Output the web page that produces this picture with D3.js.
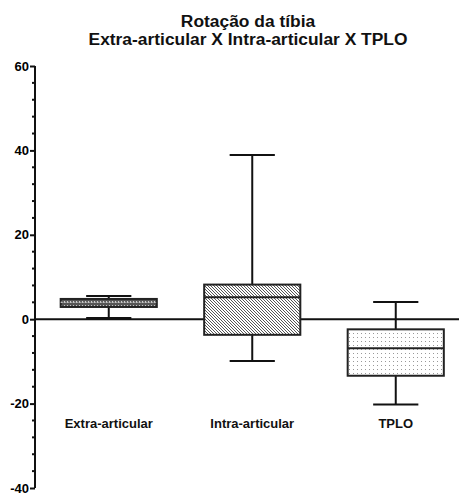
<!DOCTYPE html>
<html><head><meta charset="utf-8">
<script src="https://cdn.jsdelivr.net/npm/d3@7/dist/d3.min.js"></script>
<style>body{margin:0;background:#fff}svg{display:block}text{font-family:"Liberation Sans",Arial,sans-serif;font-weight:bold;fill:#111}</style>
</head><body>
<script>
const categories = ["Extra-articular", "Intra-articular", "TPLO"];
const whiskerLow = [0.3, -9.9, -20.2];
const q1 = [2.9, -3.7, -13.4];
const median = [4.0, 5.2, -6.9];
const q3 = [4.8, 8.2, -2.4];
const whiskerHigh = [5.5, 38.9, 4.1];
const majorTicks = [-40, -20, 0, 20, 40, 60];
const minorTicks = d3.range(-40, 61, 4);
const titleLines = ["Rotação da tíbia", "Extra-articular X Intra-articular X TPLO"];

const W = 459, H = 493;
const svg = d3.select("body").append("svg").attr("width", W).attr("height", H);
const defs = svg.append("defs");

// patterns
const p1 = defs.append("pattern").attr("id","pat0").attr("patternUnits","userSpaceOnUse").attr("width",3).attr("height",4);
p1.append("rect").attr("width",3).attr("height",4).attr("fill","#555");
p1.append("rect").attr("x",1).attr("y",1).attr("width",1).attr("height",1).attr("fill","#ccc");
const p2 = defs.append("pattern").attr("id","pat1").attr("patternUnits","userSpaceOnUse").attr("width",3).attr("height",3);
p2.append("rect").attr("width",3).attr("height",3).attr("fill","#fff");
p2.append("path").attr("d","M-1,-1L4,4M-1,2L1,4M2,-1L4,1").attr("stroke","#555").attr("stroke-width",1);
const p3 = defs.append("pattern").attr("id","pat2").attr("patternUnits","userSpaceOnUse").attr("width",4).attr("height",4);
p3.append("rect").attr("width",4).attr("height",4).attr("fill","#fff");
p3.append("rect").attr("x",1).attr("y",1).attr("width",1).attr("height",1).attr("fill","#999");

const y = d3.scaleLinear().domain([-40, 60]).range([488, 66]);
const x = d3.scaleBand().domain(categories).range([37, 467.5]);
const axisX = 35;

// title
svg.selectAll("text.title").data(titleLines).enter().append("text")
  .attr("class","title").attr("x", 248).attr("y", (d,i)=>26.5 + i*18.5)
  .attr("text-anchor","middle").style("font-size","17.4px").text(d=>d);

// zero line
svg.append("line").attr("x1", axisX).attr("x2", W).attr("y1", y(0)).attr("y2", y(0))
  .attr("stroke","#111").attr("stroke-width",2);

// y axis
const yAxis = d3.axisLeft(y).tickValues(majorTicks).tickSize(5).tickPadding(1).tickFormat(d=>String(d));
const gA = svg.append("g").attr("transform", `translate(${axisX},0)`).call(yAxis)
  .attr("font-family", null).attr("font-size", null);
gA.select(".domain").attr("stroke","#111").attr("stroke-width",2).attr("d", `M0,${y(-40)}V${y(60)}`);
gA.selectAll(".tick line").attr("stroke","#111").attr("stroke-width",2);
gA.selectAll(".tick text")
  .style("font-family", '"Liberation Sans", Arial, sans-serif')
  .style("font-size","13px").style("font-weight","700").style("fill","#000");
gA.selectAll("line.minor").data(minorTicks.filter(v=>!majorTicks.includes(v))).enter().append("line")
  .attr("class","minor").attr("x1",-3).attr("x2",0).attr("y1",d=>y(d)).attr("y2",d=>y(d))
  .attr("stroke","#111").attr("stroke-width",2);

// boxes
const bw = x.bandwidth()*0.67, cw = x.bandwidth()*0.315;
categories.forEach((c,i)=>{
  const cx = x(c) + x.bandwidth()/2;
  const g = svg.append("g");
  g.append("line").attr("x1",cx).attr("x2",cx).attr("y1",y(whiskerHigh[i])).attr("y2",y(whiskerLow[i])).attr("stroke","#111").attr("stroke-width",2);
  [whiskerHigh[i], whiskerLow[i]].forEach(v=>{
    g.append("line").attr("x1",cx-cw/2).attr("x2",cx+cw/2).attr("y1",y(v)).attr("y2",y(v)).attr("stroke","#111").attr("stroke-width",2);
  });
  g.append("rect").attr("x",cx-bw/2).attr("width",bw).attr("y",y(q3[i])).attr("height",y(q1[i])-y(q3[i]))
    .attr("fill",`url(#pat${i})`).attr("stroke","#222").attr("stroke-width",2);
  g.append("line").attr("x1",cx-bw/2).attr("x2",cx+bw/2).attr("y1",y(median[i])).attr("y2",y(median[i]))
    .attr("stroke", i===0 ? "#ddd" : "#222").attr("stroke-width", i===0 ? 1 : 2).attr("stroke-dasharray", i===0 ? "2,1" : null);
});

// category labels
svg.selectAll("text.cat").data(categories).enter().append("text").attr("class","cat")
  .attr("x", d=>x(d)+x.bandwidth()/2).attr("y", 428).attr("text-anchor","middle")
  .style("font-size","13px").text(d=>d);
</script>
</body></html>
